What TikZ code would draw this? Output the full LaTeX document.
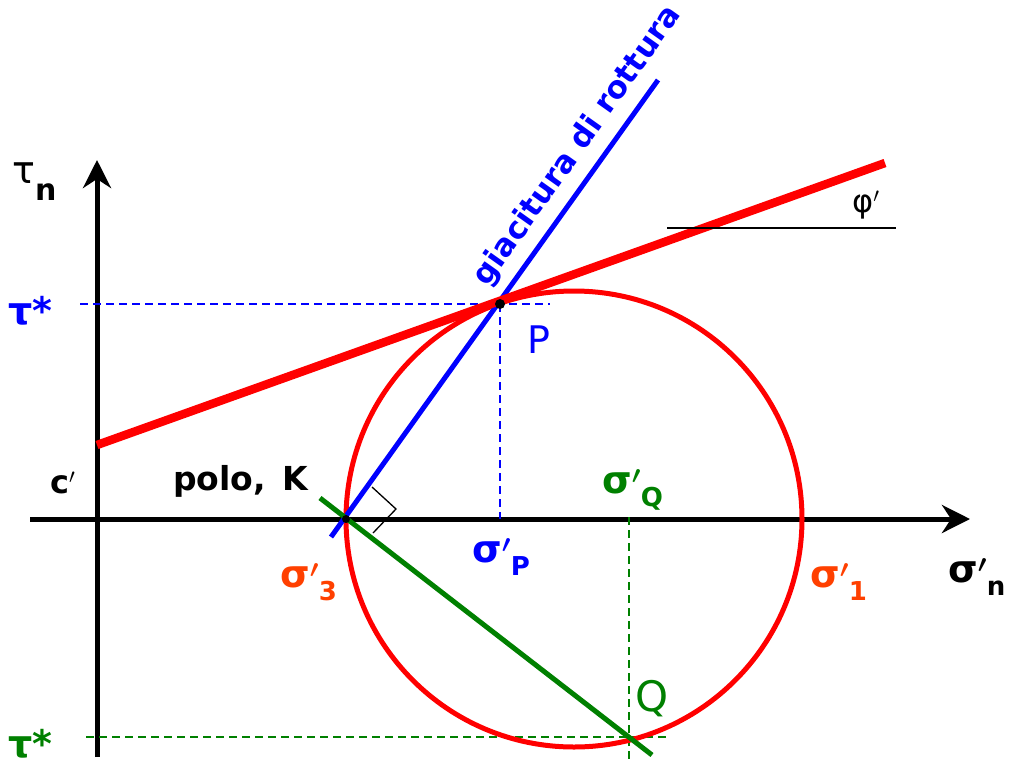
\documentclass[tikz,border=0pt]{standalone}
\usepackage{fontspec}
\setmainfont{DejaVu Sans}
\usepackage{xcolor}
\usepackage{tikz}
\usetikzlibrary{arrows.meta,positioning}
\definecolor{sorange}{RGB}{255,64,0}
\definecolor{sgreen}{RGB}{0,128,0}
\newcommand{\pr}{{\boldmath$'$}}
\newcommand{\sigsub}[1]{σ\pr\raisebox{-13pt}{\fontsize{26}{26}\selectfont #1}}

\begin{document}
\begin{tikzpicture}[x=1pt, y=-1pt,
    axis/.style={line width=5pt, -{Stealth[length=28pt, width=28pt, inset=9pt]}},
    guide/.style={line width=1.5pt, dash pattern=on 8pt off 5pt},
    lbl/.style={inner sep=0pt, anchor=base west, font=\bfseries\fontsize{38}{40}\selectfont},
    pdot/.style={circle, fill=black, inner sep=0pt, minimum size=10pt}]
  \useasboundingbox (0,0) rectangle (1017,769);
  % key points
  \coordinate (O) at (97,519);
  \coordinate (C) at (574,519);
  \coordinate (K) at (346,519);
  \coordinate (P) at (500,304);
  \coordinate (Q) at (629,737);
  % axes
  \coordinate (xa) at (30,519);  \coordinate (xb) at (970,519);
  \coordinate (ya) at (97,757);  \coordinate (yb) at (97,160);
  \draw[axis] (xa) -- (xb);
  \draw[axis] (ya) -- (yb);
  % guides
  \coordinate (tb) at (80,304);  \coordinate (te) at (550,304);
  \draw[guide, blue] (tb) -- (te);
  \draw[guide, blue] (P) -- (P |- O);
  \coordinate (gb) at (86,737);  \coordinate (ge) at (667,737);
  \draw[guide, sgreen] (gb) -- (ge);
  \coordinate (qa) at (629,517); \coordinate (qb) at (629,763);
  \draw[guide, sgreen] (qa) -- (qb);
  % Mohr circle
  \draw[red, line width=5pt] (C) circle[radius=228];
  % failure plane
  \coordinate (ba) at (331,537); \coordinate (bb) at (658,80);
  \draw[blue, line width=5pt] (ba) -- (bb);
  % envelope
  \coordinate (ra) at (97,445);  \coordinate (rb) at (885,163);
  \draw[red, line width=8.5pt] (ra) -- (rb);
  % pole line
  \coordinate (ka) at (320,498); \coordinate (kb) at (652,755);
  \draw[sgreen, line width=5pt] (ka) -- (kb);
  % right angle and angle line
  \draw[line width=1.3pt] (372,487) -- (396,509) -- (373,533);
  \coordinate (fa) at (667,228); \coordinate (fb) at (896,228);
  \draw[line width=2pt] (fa) -- (fb);
  \node[pdot] (pp) at (P) {};
  \node[pdot, minimum size=8pt] (kk) at (K) {};
  % labels
  \node[lbl] (taun) at (12,183) {\mdseries τ\raisebox{-17pt}{\bfseries\fontsize{30}{30}\selectfont n}};
  \node[lbl, text=blue] (taub) at (8,324) {τ*};
  \node[lbl, text=sgreen] (taug) at (8,757) {τ*};
  \node[lbl, font=\bfseries\fontsize{32}{34}\selectfont] (cp) at (50,493) {c$'$};
  \node[lbl, font=\bfseries\fontsize{33}{36}\selectfont] (polo) at (173,490) {polo,\hspace{5pt} K};
  \node[lbl, text=sorange] (s3) at (280,587) {\sigsub{3}};
  \node[lbl, text=blue] (sp) at (472,562) {\sigsub{P}};
  \node[lbl, text=sgreen] (sq) at (602,493) {\sigsub{Q}};
  \node[lbl, text=sorange] (s1) at (810,587) {\sigsub{1}};
  \node[lbl] (sn) at (948,582) {\sigsub{n}};
  \node[lbl, text=blue, font=\fontsize{38}{40}\selectfont] (pl) at (527,353) {P};
  \node[lbl, text=sgreen, font=\fontsize{42}{44}\selectfont] (ql) at (635,711) {Q};
  \node[lbl, font=\fontsize{32}{34}\selectfont] (phi) at (852,212) {φ$'$};
  \node[rotate=54.6, text=blue, inner sep=0pt, font=\bfseries\fontsize{31}{34}\selectfont] (giac) at (578,146) {giacitura di rottura};
\end{tikzpicture}
\end{document}
